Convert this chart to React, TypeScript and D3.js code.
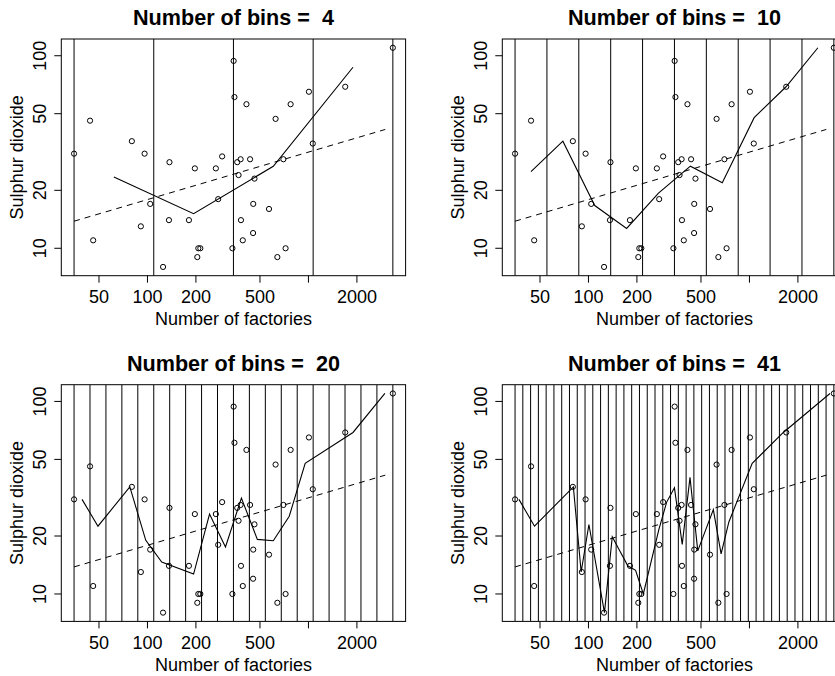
import React from "react"
import * as d3 from "d3"

// US air pollution, 41 cities: number of manufacturing enterprises vs SO2
const cities = [
  "Albany", "Albuquerque", "Atlanta", "Baltimore", "Buffalo", "Charleston", "Chicago",
  "Cincinnati", "Cleveland", "Columbus", "Dallas", "Denver", "Des Moines", "Detroit",
  "Hartford", "Houston", "Indianapolis", "Jacksonville", "Kansas City", "Little Rock",
  "Louisville", "Memphis", "Miami", "Milwaukee", "Minneapolis", "Nashville", "New Orleans",
  "Norfolk", "Omaha", "Philadelphia", "Phoenix", "Pittsburgh", "Providence", "Richmond",
  "Salt Lake City", "San Francisco", "Seattle", "St. Louis", "Washington", "Wichita", "Wilmington",
]
const factories = [
  44, 46, 368, 625, 391, 35, 3344, 462, 1007, 266, 641, 454, 104, 1064, 412, 721, 361, 136, 381, 91,
  291, 337, 207, 569, 699, 275, 204, 96, 181, 1692, 213, 347, 343, 197, 137, 453, 379, 775, 434, 125, 80,
]
const sulphur = [
  46, 11, 24, 47, 11, 31, 110, 23, 65, 26, 9, 17, 17, 35, 56, 10, 28, 14, 14, 13,
  30, 10, 10, 16, 29, 18, 9, 31, 14, 69, 10, 61, 94, 26, 28, 12, 29, 56, 29, 8, 36,
]
const binCounts = [4, 10, 20, 41]
const xTicks = [50, 100, 200, 500, 1000, 2000]
const xTickLabels = ["50", "100", "200", "500", "", "2000"]
const yTicks = [10, 20, 50, 100]
const fitRange = [35, 3000]

// layout (R style 2x2 panels)
const panelOffsets = [[0, 0], [441, 0], [0, 345.7], [441, 345.7]]
const box = { left: 61.3, top: 39, width: 344.3, height: 236.7 }
const font = "'Liberation Sans', Arial, Helvetica, sans-serif"

const lx = factories.map(Math.log)
const ly = sulphur.map(Math.log)
const lo = d3.min(lx) as number
const hi = d3.max(lx) as number

// least squares fit of log(SO2) on log(factories)
const mx = d3.mean(lx) as number
const my = d3.mean(ly) as number
const slope = d3.sum(lx.map((v, i) => (v - mx) * (ly[i] - my))) / d3.sum(lx.map(v => (v - mx) ** 2))
const intercept = my - slope * mx

function binMeans(n: number) {
  const w = (hi - lo) / n
  const groups: number[][] = d3.range(n).map(() => [])
  lx.forEach((v, i) => {
    let k = Math.ceil((v - lo) / w - 1e-9) - 1
    k = Math.max(0, Math.min(n - 1, k))
    groups[k].push(ly[i])
  })
  const pts: { x: number; y: number }[] = []
  groups.forEach((g, k) => {
    if (g.length) pts.push({ x: Math.exp(lo + (k + 0.5) * w), y: Math.exp(d3.mean(g) as number) })
  })
  return { pts, breaks: d3.range(n + 1).map(k => Math.exp(lo + k * w)) }
}

// R pads log range by 4%
function padded(vals: number[]) {
  const a = Math.log10(d3.min(vals) as number), b = Math.log10(d3.max(vals) as number)
  const d = (b - a) * 0.04
  return [10 ** (a - d), 10 ** (b + d)]
}

const x = d3.scaleLog().domain(padded(factories)).range([box.left, box.left + box.width])
const y = d3.scaleLog().domain(padded(sulphur)).range([box.top + box.height, box.top])

function Panel({ n, idx }: { n: number; idx: number }) {
  const [dx, dy] = panelOffsets[idx]
  const { pts, breaks } = binMeans(n)
  const line = d3.line<{ x: number; y: number }>().x(d => x(d.x)).y(d => y(d.y))
  const fit = fitRange.map(v => ({ x: v, y: Math.exp(intercept + slope * Math.log(v)) }))
  const bottom = box.top + box.height
  const cx = box.left + box.width / 2
  const cy = box.top + box.height / 2
  const clipId = "clip" + idx
  return (
    <g transform={`translate(${dx},${dy})`}>
      <clipPath id={clipId}>
        <rect x={box.left} y={box.top} width={box.width} height={box.height} />
      </clipPath>
      <text x={cx} y={25} textAnchor="middle" fontSize={21.6} fontWeight="bold" style={{ whiteSpace: "pre" }}>
        {"Number of bins =  " + n}
      </text>
      <g clipPath={`url(#${clipId})`}>
        {breaks.map((b, i) => (
          <line key={i} x1={x(b)} x2={x(b)} y1={box.top} y2={bottom} stroke="#000" strokeWidth={1} />
        ))}
        <path d={line(fit) as string} fill="none" stroke="#000" strokeWidth={1} strokeDasharray="6,5" />
        <path d={line(pts) as string} fill="none" stroke="#000" strokeWidth={1.1} />
        {factories.map((f, i) => (
          <circle key={cities[i]} cx={x(f)} cy={y(sulphur[i])} r={2.6} fill="none" stroke="#000" strokeWidth={1} />
        ))}
      </g>
      <rect x={box.left} y={box.top} width={box.width} height={box.height} fill="none" stroke="#000" strokeWidth={1} />
      {xTicks.map((t, i) => (
        <g key={t}>
          <line x1={x(t)} x2={x(t)} y1={bottom} y2={bottom + 7} stroke="#000" />
          <text x={x(t)} y={303} textAnchor="middle" fontSize={18}>{xTickLabels[i]}</text>
        </g>
      ))}
      {yTicks.map(t => (
        <g key={t}>
          <line x1={box.left - 7} x2={box.left} y1={y(t)} y2={y(t)} stroke="#000" />
          <text transform={`translate(46,${y(t)}) rotate(-90)`} textAnchor="middle" fontSize={18}>{t}</text>
        </g>
      ))}
      <text x={cx} y={325} textAnchor="middle" fontSize={18}>Number of factories</text>
      <text transform={`translate(23,${cy}) rotate(-90)`} textAnchor="middle" fontSize={18}>Sulphur dioxide</text>
    </g>
  )
}

export default function App() {
  return (
    <svg width={835} height={676} style={{ position: "absolute", left: 0, top: 0, background: "#fff" }}
      fontFamily={font}>
      <rect width={835} height={676} fill="#fff" />
      {binCounts.map((n, i) => <Panel key={n} n={n} idx={i} />)}
    </svg>
  )
}
